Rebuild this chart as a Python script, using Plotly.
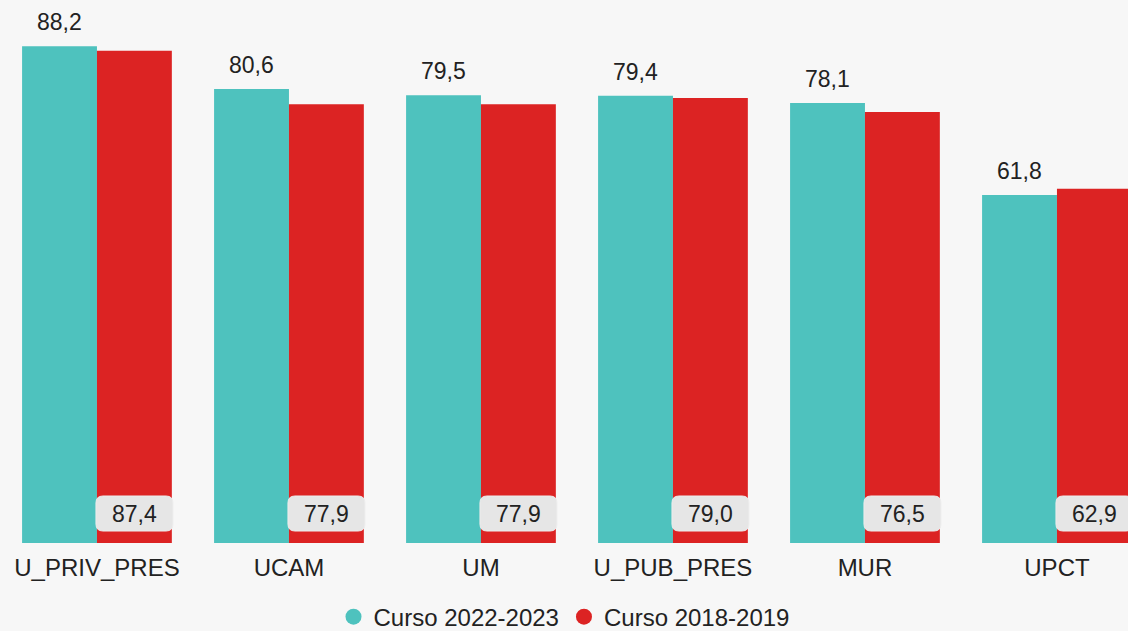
import plotly.graph_objects as go

# Data
universidades = ['U_PRIV_PRES', 'UCAM', 'UM', 'U_PUB_PRES', 'MUR', 'UPCT']
curso_2022_2023 = [88.2, 80.6, 79.5, 79.4, 78.1, 61.8]
curso_2018_2019 = [87.4, 77.9, 77.9, 79.0, 76.5, 62.9]

TEAL = '#4EC2BE'
RED = '#DC2323'
TEXT = '#222222'
FONT = 'Arial, Liberation Sans, sans-serif'


def fmt(v):
    return f"{v:.1f}".replace('.', ',')


def rounded_box(x0, x1, y0, y1, r):
    """Rounded rectangle path in pixels (relative to the shape anchor)."""
    return (f"M {x0 + r},{y0} L {x1 - r},{y0} Q {x1},{y0} {x1},{y0 + r} "
            f"L {x1},{y1 - r} Q {x1},{y1} {x1 - r},{y1} "
            f"L {x0 + r},{y1} Q {x0},{y1} {x0},{y1 - r} "
            f"L {x0},{y0 + r} Q {x0},{y0} {x0 + r},{y0} Z")


fig = go.Figure()

fig.add_trace(go.Bar(
    x=universidades, y=curso_2022_2023, name='Curso 2022-2023',
    marker=dict(color=TEAL, line=dict(width=0)), showlegend=False
))
fig.add_trace(go.Bar(
    x=universidades, y=curso_2018_2019, name='Curso 2018-2019',
    marker=dict(color=RED, line=dict(width=0)), showlegend=False
))

# legend entries with circle symbols
for name, color in [('Curso 2022-2023', TEAL), ('Curso 2018-2019', RED)]:
    fig.add_trace(go.Scatter(
        x=[None], y=[None], mode='markers', name=name,
        marker=dict(color=color, size=20, symbol='circle')
    ))

# value labels: teal above bars, red in grey boxes at the bottom
for cat, v in zip(universidades, curso_2022_2023):
    fig.add_annotation(
        x=cat, y=v, xref='x', yref='y', text=fmt(v), showarrow=False,
        xshift=-37.5, yanchor='bottom', yshift=9,
        font=dict(size=23, color=TEXT, family=FONT)
    )
for i, (cat, v) in enumerate(zip(universidades, curso_2018_2019)):
    fig.add_shape(
        type='path', xref='x', yref='y',
        xsizemode='pixel', ysizemode='pixel', xanchor=i, yanchor=0,
        path=rounded_box(-1, 76, 12, 47, 7),
        fillcolor='#E6E6E6', line=dict(color='#EDEDED', width=1), layer='above'
    )
    fig.add_annotation(
        x=cat, y=0, xref='x', yref='y', text=fmt(v), showarrow=False,
        xshift=37.5, yanchor='middle', yshift=29.5,
        font=dict(size=23, color=TEXT, family=FONT)
    )

fig.update_layout(
    width=1128, height=631,
    barmode='group', bargap=0.22, bargroupgap=0,
    paper_bgcolor='#F7F7F7', plot_bgcolor='#F7F7F7',
    margin=dict(l=0, r=0, t=0, b=88),
    font=dict(family=FONT, size=24, color=TEXT),
    xaxis=dict(
        range=[-0.505, 5.37], showgrid=False, showline=False, zeroline=False,
        ticks='', ticklabelstandoff=8, tickfont=dict(size=24, color=TEXT)
    ),
    yaxis=dict(range=[0, 96.4], visible=False, showgrid=False, zeroline=False),
    legend=dict(
        orientation='h', x=0.5, xanchor='center', yref='container',
        y=0.022, yanchor='middle', font=dict(size=24, color=TEXT),
        bgcolor='rgba(0,0,0,0)', itemclick=False
    ),
    showlegend=True,
)

fig.write_html("out.html", config={'displayModeBar': False},
               post_script="document.body.style.margin='0';")
